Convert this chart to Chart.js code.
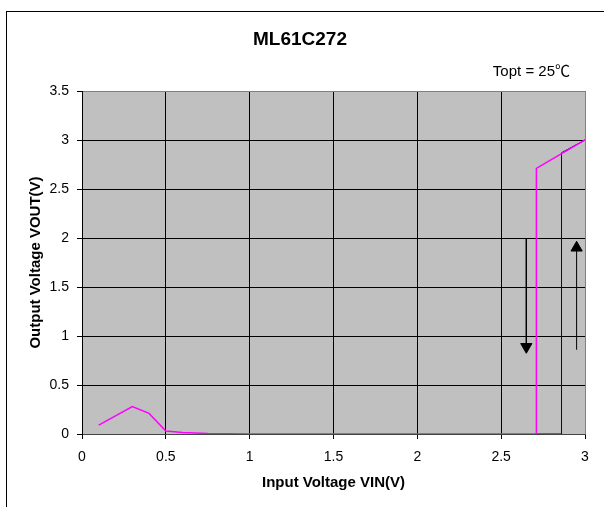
<!DOCTYPE html>
<html>
<head>
<meta charset="utf-8">
<script src="https://cdn.jsdelivr.net/npm/chart.js@4/dist/chart.umd.min.js"></script>
<style>
  html, body { margin: 0; padding: 0; background: #fff; }
  #wrap { width: 604px; height: 507px; }
</style>
</head>
<body>
<div id="wrap"><canvas id="area" width="604" height="507"></canvas></div>
<script>
// rising / falling sweep
var vinA = [0.1, 0.3, 0.4, 0.5, 0.6, 0.75, 1.0, 2.71, 2.71, 3.0];
var voutA = [0.09, 0.28, 0.21, 0.03, 0.015, 0.005, 0, 0, 2.71, 3.0];
var vinB = [2.71, 2.86, 2.86, 3.0];
var voutB = [0, 0, 2.87, 3.0];
// hysteresis arrows
var arrowDownX = [2.65, 2.65];
var arrowDownY = [2.0, 0.89];
var arrowUpX = [2.95, 2.95];
var arrowUpY = [0.86, 1.9];
var xTicks = [0, 0.5, 1, 1.5, 2, 2.5, 3];
var yTicks = [0, 0.5, 1, 1.5, 2, 2.5, 3, 3.5];

function pts(xs, ys) {
    return xs.map(function (x, i) { return { x: x, y: ys[i] }; });
}

var FONT = 'Arial, "Liberation Sans", sans-serif';

var framePlugin = {
    id: 'frame',
    beforeDraw: function (chart) {
        var c = chart.ctx, a = chart.chartArea;
        c.save();
        c.fillStyle = '#fff';
        c.fillRect(0, 0, chart.width, chart.height);
        c.strokeStyle = '#000';
        c.lineWidth = 1;
        c.strokeRect(6.5, 11.5, 620, 520);
        c.fillStyle = '#c0c0c0';
        c.fillRect(a.left, a.top, a.right - a.left, a.bottom - a.top);
        c.restore();
    },
    afterDraw: function (chart) {
        var c = chart.ctx;
        c.save();
        c.fillStyle = '#000';
        c.textBaseline = 'middle';
        c.textAlign = 'center';
        c.font = 'bold 19px ' + FONT;
        c.fillText('ML61C272', 300, 40);
        c.textAlign = 'right';
        c.font = '15px ' + FONT + ', "Noto Sans CJK JP"';
        c.fillText('Topt = 25\u2103', 570, 72);
        c.restore();
    }
};

var ctx = document.getElementById('area').getContext('2d');
var myChart = new Chart(ctx, {
    type: 'line',
    data: {
        datasets: [{
            data: pts(vinA, voutA),
            borderColor: '#ff00ff',
            borderWidth: 1.5,
            pointRadius: 0
        }, {
            data: pts(vinB, voutB),
            borderColor: '#000080',
            borderWidth: 1,
            pointRadius: 0
        }, {
            data: pts(arrowDownX, arrowDownY),
            borderColor: '#000',
            borderWidth: 1,
            pointStyle: 'triangle',
            pointRadius: [0, 6.5],
            rotation: 180,
            pointBackgroundColor: '#000',
            pointBorderColor: '#000'
        }, {
            data: pts(arrowUpX, arrowUpY),
            borderColor: '#000',
            borderWidth: 1,
            pointStyle: 'triangle',
            pointRadius: [0, 6.5],
            rotation: 0,
            pointBackgroundColor: '#000',
            pointBorderColor: '#000'
        }]
    },
    options: {
        responsive: false,
        animation: false,
        events: [],
        layout: { padding: { left: 23, top: 91, right: 19, bottom: 11 } },
        plugins: { legend: { display: false }, tooltip: { enabled: false } },
        scales: {
            x: {
                type: 'linear', min: 0, max: 3,
                afterBuildTicks: function (s) { s.ticks = xTicks.map(function (v) { return { value: v }; }); },
                afterFit: function (s) { s.height = 62; },
                ticks: {
                    color: '#000', padding: 10, maxRotation: 0, font: { family: FONT, size: 14 },
                    callback: function (v) { return String(v); }
                },
                grid: {
                    color: function (c) { return c.tick && c.tick.value === 3 ? '#808080' : '#000'; },
                    tickColor: '#000', tickLength: 5, lineWidth: 1
                },
                border: { color: '#444', width: 1 },
                title: { display: true, text: 'Input Voltage VIN(V)', color: '#000', font: { family: FONT, size: 15, weight: 'bold' } }
            },
            y: {
                min: 0, max: 3.5,
                afterBuildTicks: function (s) { s.ticks = yTicks.map(function (v) { return { value: v }; }); },
                afterFit: function (s) { s.width = 59; },
                ticks: {
                    color: '#000', padding: 8, font: { family: FONT, size: 14 },
                    callback: function (v) { return String(v); }
                },
                grid: {
                    color: function (c) { return c.tick && c.tick.value === 3.5 ? '#808080' : '#000'; },
                    tickColor: '#000', tickLength: 5, lineWidth: 1
                },
                border: { color: '#000', width: 1 },
                title: { display: true, text: 'Output Voltage VOUT(V)', color: '#000', font: { family: FONT, size: 15, weight: 'bold' } }
            }
        }
    },
    plugins: [framePlugin]
});
</script>
</body>
</html>
